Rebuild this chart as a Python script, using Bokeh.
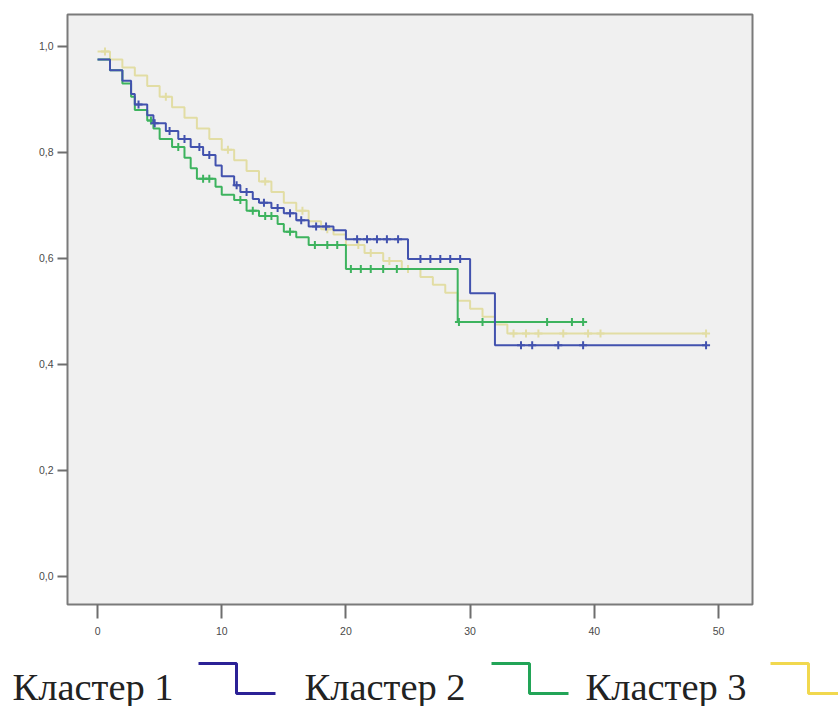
from bokeh.plotting import figure
from bokeh.models import Range1d, FixedTicker, CustomJSTickFormatter
from bokeh.layouts import column
from bokeh.embed import file_html
from bokeh.resources import INLINE
from bokeh.core.properties import value

# ---------------- data ----------------
x_ticks = [0, 10, 20, 30, 40, 50]
y_ticks = [0.0, 0.2, 0.4, 0.6, 0.8, 1.0]

c1_times = [0, 1.0, 2.0, 2.7, 3.0, 4.0, 4.5, 5.5, 6.5, 7.5, 8.5, 9.5, 10.0, 11.0, 11.5,
            12.5, 13.0, 14.0, 15.0, 16.0, 17.0, 19.0, 20.0, 25.0, 30.0, 32.0]
c1_surv = [0.975, 0.955, 0.935, 0.91, 0.89, 0.87, 0.855, 0.84, 0.825, 0.81, 0.795, 0.775,
           0.755, 0.738, 0.725, 0.712, 0.705, 0.695, 0.685, 0.672, 0.66, 0.653, 0.636,
           0.599, 0.534, 0.436]
c1_end = 49.0
c1_censored = [3.3, 4.6, 5.8, 7.0, 8.2, 9.0, 11.2, 12.0, 13.4, 14.5, 15.5, 16.4, 17.6, 18.4,
               20.9, 21.7, 22.5, 23.3, 24.2, 26.0, 26.8, 27.6, 28.4, 29.2,
               34.1, 35.0, 37.1, 39.1, 49.0]

c2_times = [0, 1.0, 2.0, 2.7, 3.0, 4.0, 4.5, 5.0, 6.0, 7.0, 7.5, 8.0, 9.5, 10.0, 11.0,
            12.0, 13.0, 14.5, 15.0, 16.0, 17.0, 20.0, 29.0]
c2_surv = [0.975, 0.955, 0.93, 0.905, 0.88, 0.86, 0.845, 0.825, 0.81, 0.79, 0.77, 0.75,
           0.735, 0.72, 0.71, 0.69, 0.68, 0.665, 0.65, 0.64, 0.625, 0.58, 0.48]
c2_end = 39.1
c2_censored = [4.3, 6.5, 8.5, 9.0, 11.5, 12.5, 13.5, 14.0, 15.5, 17.5, 18.5, 19.3,
               20.4, 21.2, 22.0, 23.0, 24.1, 29.1, 31.0, 36.2, 38.2, 39.1]

c3_times = [0, 1.0, 2.0, 3.0, 4.0, 5.0, 6.0, 7.0, 8.0, 9.0, 10.0, 11.0, 12.0, 13.0, 14.0,
            15.0, 16.0, 17.0, 18.0, 19.0, 20.0, 21.5, 23.0, 24.5, 26.0, 27.0, 28.0, 29.0,
            30.0, 31.0, 32.0, 33.0]
c3_surv = [0.99, 0.975, 0.96, 0.945, 0.925, 0.905, 0.885, 0.865, 0.845, 0.825, 0.805,
           0.785, 0.765, 0.745, 0.725, 0.705, 0.69, 0.67, 0.655, 0.645, 0.625, 0.61,
           0.595, 0.58, 0.565, 0.55, 0.535, 0.52, 0.505, 0.49, 0.475, 0.458]
c3_end = 49.0
c3_censored = [0.6, 5.5, 10.5, 13.5, 16.5, 18.5, 21.0, 22.0, 23.5, 25.0, 33.5, 34.5,
               35.5, 37.5, 39.5, 40.5, 49.0]

legend_labels = ["Кластер 1", "Кластер 2", "Кластер 3"]

# ---------------- styles ----------------
line_colors = ["#4252AE", "#3DB35E", "#E2DDA4"]
legend_colors = ["#2B2196", "#22A457", "#F1D84E"]


def level_at(times, surv, t):
    val = surv[0]
    for ti, si in zip(times, surv):
        if ti <= t:
            val = si
    return val


p = figure(width=838, height=650, output_backend="svg", toolbar_location=None,
           x_range=Range1d(-2.42, 52.74), y_range=Range1d(-0.053, 1.06),
           min_border_left=67, min_border_right=86, min_border_top=14,
           min_border_bottom=46)
p.frame_align = False
p.background_fill_color = "#F0F0F0"
p.border_fill_color = "white"
p.outline_line_color = "#7A7A7A"
p.outline_line_width = 2
p.grid.visible = False

for ax in (p.xaxis[0], p.yaxis[0]):
    ax.axis_line_color = None
    ax.major_tick_in = 0
    ax.minor_tick_line_color = None
    ax.major_tick_line_color = "#6E6E6E"
    ax.major_tick_line_width = 2
    ax.major_label_text_color = "#4A4A4A"
    ax.major_label_text_font = "Liberation Sans"
    ax.major_label_text_font_size = "10.5px"

p.xaxis.ticker = FixedTicker(ticks=x_ticks)
p.yaxis.ticker = FixedTicker(ticks=y_ticks)
p.xaxis.major_tick_out = 14
p.xaxis.major_label_standoff = 8
p.yaxis.major_tick_out = 10
p.yaxis.major_label_standoff = 4
p.yaxis.formatter = CustomJSTickFormatter(code="return tick.toFixed(1).replace('.', ',');")

series = [
    (c3_times, c3_surv, c3_end, c3_censored, line_colors[2]),
    (c2_times, c2_surv, c2_end, c2_censored, line_colors[1]),
    (c1_times, c1_surv, c1_end, c1_censored, line_colors[0]),
]
for times, surv, end, cens, col in series:
    xs = list(times) + [end]
    ys = list(surv) + [surv[-1]]
    p.step(xs, ys, mode="after", line_color=col, line_width=2)
    cy = [level_at(times, surv, t) for t in cens]
    p.scatter(cens, cy, marker="cross", size=8, line_color=col, line_width=2)

# ---------------- legend strip ----------------
lg = figure(width=838, height=56, output_backend="svg", toolbar_location=None,
            x_range=Range1d(0, 838), y_range=Range1d(56, 0),
            min_border=0, outline_line_color=None)
lg.frame_align = False
lg.axis.visible = False
lg.grid.visible = False
lg.background_fill_color = "white"
lg.border_fill_color = "white"

text_x = [12, 304, 585]
icon_x = [198, 491, 770]
lg.text(x=text_x, y=[36, 36, 36], text=legend_labels, text_font=value("Liberation Serif"),
        text_font_size="38.5px", text_color="#222222", text_baseline="alphabetic")
for ix, col in zip(icon_x, legend_colors):
    lg.line([ix, ix + 38, ix + 38, ix + 77], [13, 13, 43, 43], line_color=col, line_width=3)

layout = column(p, lg, spacing=0)
open("out.html", "w").write(file_html(layout, INLINE))
